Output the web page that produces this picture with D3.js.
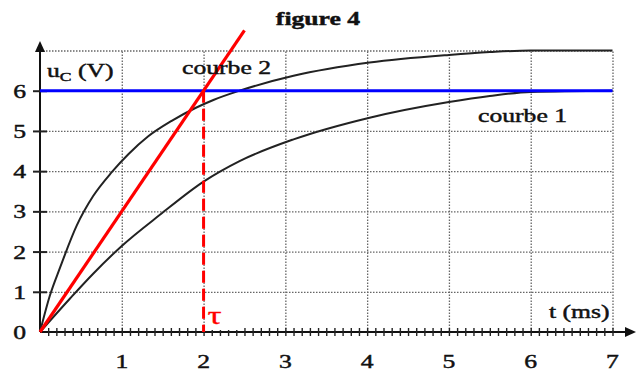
<!DOCTYPE html>
<html>
<head>
<meta charset="utf-8">
<script src="https://cdn.jsdelivr.net/npm/d3@7"></script>
<style>
  body { margin: 0; background: #fff; }
  svg text { font-family: "Liberation Serif", "DejaVu Serif", serif; fill: #111; stroke: #111; stroke-width: 0.45; }
</style>
</head>
<body>
<svg id="fig" width="639" height="372"></svg>
<script>
// values
var courbe1T = [0, 0.37, 0.65, 1.0, 1.47, 2.0, 2.44, 3.1, 4.03, 5.0, 5.5, 6.0, 7.0];
var courbe1U = [0, 0.84, 1.45, 2.14, 2.92, 3.74, 4.25, 4.79, 5.33, 5.72, 5.87, 5.97, 6.0];

var courbe2T = [0, 0.12, 0.245, 0.45, 0.65, 0.88, 1.08, 1.32, 1.61, 1.9, 2.12, 2.44, 3.1, 4.03, 5.0, 5.5, 6.0, 7.0];
var courbe2U = [0, 0.9, 1.6, 2.65, 3.38, 3.98, 4.42, 4.86, 5.25, 5.57, 5.77, 6.0, 6.37, 6.7, 6.89, 6.96, 7.0, 7.0];

var tangentT = [0, 2.5];
var tangentU = [0, 7.5];

var E = 6;      // asymptote (blue line)
var tau = 2;    // time constant (red dashes)

var xTicks = [1, 2, 3, 4, 5, 6, 7];
var yTicks = [0, 1, 2, 3, 4, 5, 6];

const svg = d3.select("#fig");
const stretch = "scale(1.35,1)";

const x = d3.scaleLinear().domain([0, 7]).range([40, 612.5]);
const y = d3.scaleLinear().domain([0, 7]).range([332, 50.5]);

// grid, dotted
const gridStyle = function (sel) {
    sel.select(".domain").remove();
    sel.selectAll("text").remove();
    sel.selectAll("line").attr("stroke", "#666").attr("stroke-width", 1.3).attr("stroke-dasharray", "1.5,1.5");
};
svg.append("g")
    .attr("transform", "translate(0," + y(0) + ")")
    .call(d3.axisBottom(x).tickValues(xTicks).tickSize(-(y(0) - y(7))))
    .call(gridStyle);
svg.append("g")
    .attr("transform", "translate(" + x(0) + ",0)")
    .call(d3.axisLeft(y).tickValues(d3.range(1, 8)).tickSize(-(x(7) - x(0))))
    .call(gridStyle);

// axes lines + arrows
svg.append("line").attr("x1", x(0)).attr("x2", 630).attr("y1", y(0)).attr("y2", y(0))
    .attr("stroke", "#111").attr("stroke-width", 2);
svg.append("path").attr("d", "M636," + y(0) + " l-11,-5 l0,10 z").attr("fill", "#111");
svg.append("line").attr("x1", x(0)).attr("x2", x(0)).attr("y1", y(0)).attr("y2", 48)
    .attr("stroke", "#111").attr("stroke-width", 2);
svg.append("path").attr("d", "M" + x(0) + ",41 l-5,11 l10,0 z").attr("fill", "#111");

// minor ticks on t axis, crossing the axis
const xAxisG = svg.append("g")
    .attr("transform", "translate(0," + y(0) + ")")
    .call(d3.axisBottom(x).tickValues(d3.range(1, 71).map(function (d) { return d / 10; })).tickSize(8).tickFormat(""));
xAxisG.select(".domain").remove();
xAxisG.selectAll("line").attr("y1", -4).attr("y2", 4).attr("stroke", "#222").attr("stroke-width", 1.4);

// y ticks
const yAxisG = svg.append("g")
    .attr("transform", "translate(" + x(0) + ",0)")
    .call(d3.axisLeft(y).tickValues(yTicks.slice(1)).tickSize(7).tickFormat(""));
yAxisG.select(".domain").remove();
yAxisG.selectAll("line").attr("x1", 7).attr("x2", -7).attr("stroke", "#222").attr("stroke-width", 2);

// tick labels
svg.selectAll("text.ylab").data(yTicks).enter().append("text")
    .attr("class", "ylab")
    .attr("transform", function (d) { return "translate(26," + (y(d) + 7) + ") " + stretch; })
    .attr("text-anchor", "end")
    .attr("font-size", 19)
    .text(function (d) { return d; });
svg.selectAll("text.xlab").data(xTicks).enter().append("text")
    .attr("class", "xlab")
    .attr("transform", function (d) { return "translate(" + x(d) + ",368) " + stretch; })
    .attr("text-anchor", "middle")
    .attr("font-size", 19)
    .text(function (d) { return d; });

// curves
const line = d3.line().x(function (d) { return x(d[0]); }).y(function (d) { return y(d[1]); })
    .curve(d3.curveMonotoneX);
svg.append("path").datum(d3.zip(courbe1T, courbe1U)).attr("d", line)
    .attr("fill", "none").attr("stroke", "#222").attr("stroke-width", 2);
svg.append("path").datum(d3.zip(courbe2T, courbe2U)).attr("d", line)
    .attr("fill", "none").attr("stroke", "#222").attr("stroke-width", 2);

// asymptote
svg.append("line").attr("x1", x(0)).attr("x2", x(7)).attr("y1", y(E)).attr("y2", y(E))
    .attr("stroke", "#0000ff").attr("stroke-width", 3);

// tangent at origin
svg.append("line")
    .attr("x1", x(tangentT[0])).attr("y1", y(tangentU[0]))
    .attr("x2", x(tangentT[1])).attr("y2", y(tangentU[1]))
    .attr("stroke", "#ff0000").attr("stroke-width", 3.2);

// tau marker
svg.append("line").attr("x1", x(tau)).attr("x2", x(tau)).attr("y1", y(E)).attr("y2", y(0))
    .attr("stroke", "#ff0000").attr("stroke-width", 3).attr("stroke-dasharray", "12,6");
svg.append("rect").attr("x", x(tau) + 2).attr("y", 307).attr("width", 34).attr("height", 23).attr("fill", "#fff");
svg.append("text")
    .attr("transform", "translate(" + (x(tau) + 4) + ",324) " + stretch)
    .attr("font-size", 26).style("fill", "#ff0000").style("stroke", "#ff0000").style("stroke-width", 0.3)
    .text("τ");

// labels
svg.append("text").attr("transform", "translate(318,25) " + stretch)
    .attr("text-anchor", "middle").attr("font-size", 19).attr("font-weight", "bold")
    .text("figure 4");

const ul = svg.append("text").attr("transform", "translate(47,77) " + stretch).attr("font-size", 19);
ul.append("tspan").text("u");
ul.append("tspan").attr("font-size", 13).attr("dy", 4).text("C");
ul.append("tspan").attr("dy", -4).text(" (V)");

svg.append("text").attr("transform", "translate(182,74) " + stretch).attr("font-size", 19).text("courbe 2");
svg.append("text").attr("transform", "translate(478,122) " + stretch).attr("font-size", 19).text("courbe 1");
svg.append("text").attr("transform", "translate(549,318) " + stretch).attr("font-size", 19).text("t (ms)");
</script>
</body>
</html>
